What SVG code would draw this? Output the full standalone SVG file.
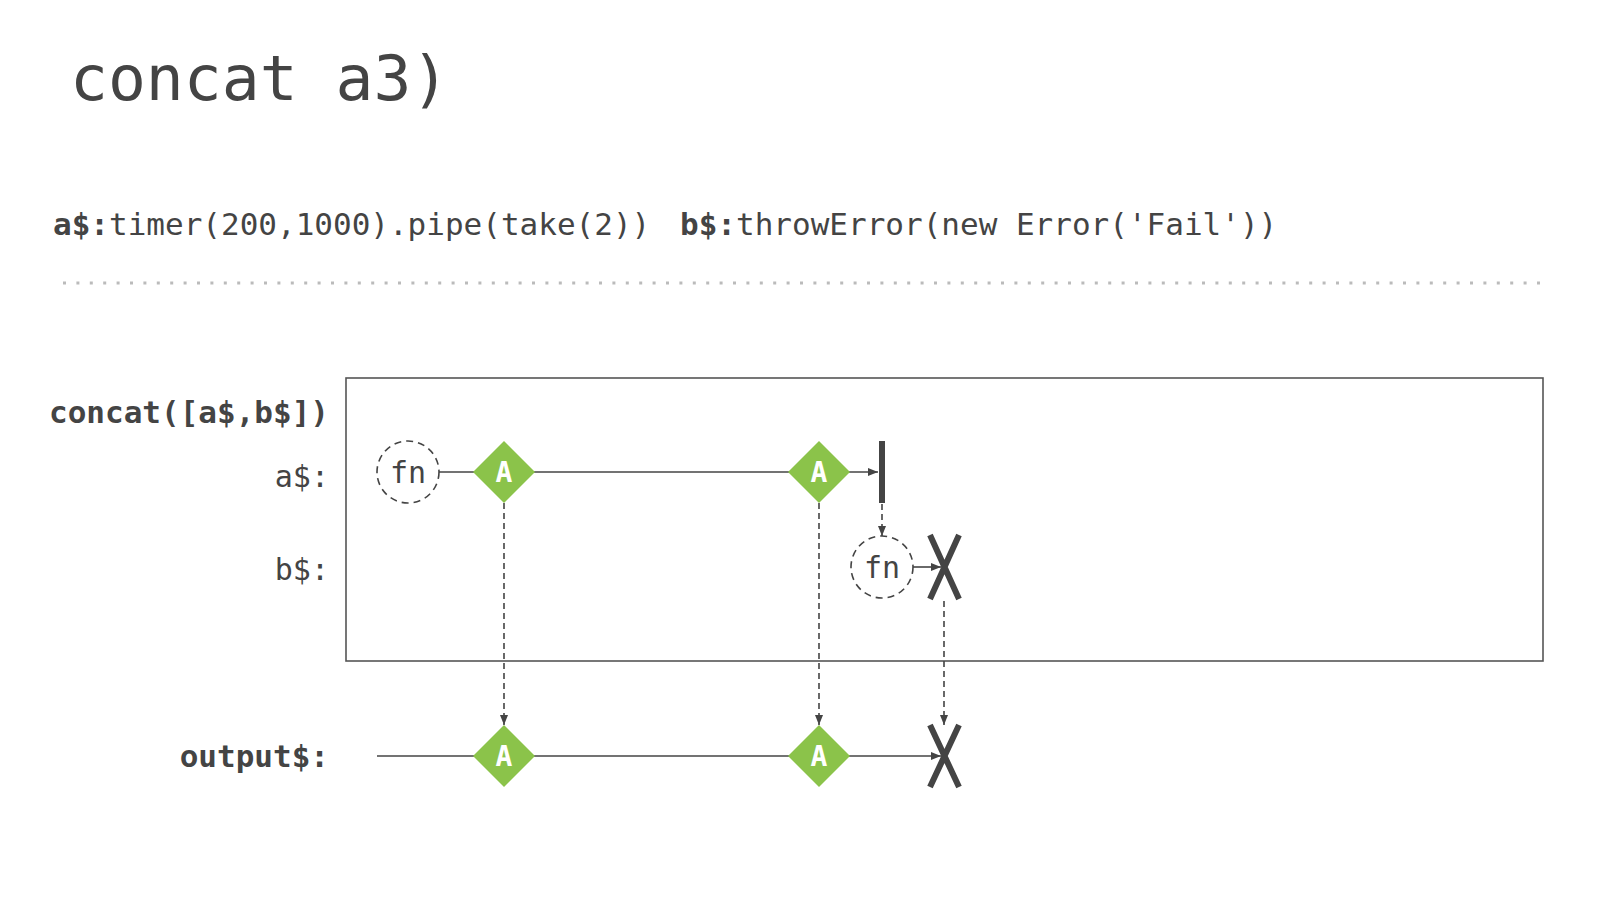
<svg xmlns="http://www.w3.org/2000/svg" width="1600" height="900" viewBox="0 0 1600 900">
  <style>
    .mono { font-family: "DejaVu Sans Mono", "Liberation Mono", monospace; fill: #444; }
    .title { font-size: 63px; }
    .code { font-size: 31px; }
    .label { font-size: 30px; text-anchor: end; }
    .heading { font-size: 31px; text-anchor: end; font-weight: bold; }
    .bold { font-weight: bold; }
    .fn { font-size: 30px; text-anchor: middle; fill: #444; }
    .val { font-family: "DejaVu Sans Mono", "Liberation Mono", monospace; font-size: 28px; font-weight: bold; fill: #fff; text-anchor: middle; }
    .diamond { fill: #8bc34a; }
    .timeline { stroke: #444; stroke-width: 1.6; fill: none; }
    .dashed { stroke: #444; stroke-width: 1.6; fill: none; stroke-dasharray: 6 4; }
    .fncircle { fill: #fff; stroke: #444; stroke-width: 1.6; stroke-dasharray: 7 5; }
    .err { stroke: #444; stroke-width: 6; fill: none; }
  </style>
  <defs>
    <marker id="arrow" viewBox="0 0 10 8" refX="10" refY="4" markerWidth="10" markerHeight="8" markerUnits="userSpaceOnUse" orient="auto">
      <path d="M0,0 L10,4 L0,8 Z" fill="#444"/>
    </marker>
  </defs>

  <rect width="1600" height="900" fill="#fff"/>

  <!-- heading and source -->
  <text class="mono title" x="70" y="100">concat a3)</text>
  <text class="mono code" x="53" y="235"><tspan class="bold">a$:</tspan>timer(200,1000).pipe(take(2))</text>
  <text class="mono code" x="680" y="235"><tspan class="bold">b$:</tspan>throwError(new Error('Fail'))</text>
  <line x1="63" y1="283" x2="1545" y2="283" stroke="#bbb" stroke-width="3" stroke-dasharray="3 10.4"/>

  <!-- operator frame -->
  <g id="frame">
    <rect x="346" y="378" width="1197" height="283" fill="none" stroke="#555" stroke-width="1.6"/>
    <text class="mono heading" x="329" y="423">concat([a$,b$])</text>
    <text class="mono label" x="329" y="487" fill="#555">a$:</text>
    <text class="mono label" x="329" y="580" fill="#555">b$:</text>
  </g>
  <text class="mono heading" x="329" y="767">output$:</text>

  <!-- connectors -->
  <g id="connectors">
    <line class="timeline" x1="439" y1="472" x2="878" y2="472" marker-end="url(#arrow)"/>
    <line class="dashed" x1="504" y1="503" x2="504" y2="725" marker-end="url(#arrow)"/>
    <line class="dashed" x1="819" y1="503" x2="819" y2="725" marker-end="url(#arrow)"/>
    <line class="dashed" x1="882" y1="504" x2="882" y2="536" marker-end="url(#arrow)"/>
    <line class="timeline" x1="913" y1="567" x2="941" y2="567" marker-end="url(#arrow)"/>
    <line class="dashed" x1="944" y1="601" x2="944" y2="725" marker-end="url(#arrow)"/>
    <line class="timeline" x1="377" y1="756" x2="941" y2="756" marker-end="url(#arrow)"/>
  </g>

  <!-- a$ stream -->
  <g id="a-fn">
    <circle class="fncircle" cx="408" cy="472" r="31"/>
    <text class="mono fn" x="408" y="483">fn</text>
  </g>
  <g id="a-value-1">
    <polygon class="diamond" points="504,441 535,472 504,503 473,472"/>
    <text class="val" x="504" y="482">A</text>
  </g>
  <g id="a-value-2">
    <polygon class="diamond" points="819,441 850,472 819,503 788,472"/>
    <text class="val" x="819" y="482">A</text>
  </g>
  <g id="a-complete">
    <rect x="879" y="441" width="6" height="62" fill="#444"/>
  </g>

  <!-- b$ stream -->
  <g id="b-fn">
    <circle class="fncircle" cx="882" cy="567" r="31"/>
    <text class="mono fn" x="882" y="578">fn</text>
  </g>
  <g id="b-error">
    <path class="err" d="M930,535 L959,599 M959,535 L930,599"/>
  </g>

  <!-- output$ stream -->
  <g id="out-value-1">
    <polygon class="diamond" points="504,725 535,756 504,787 473,756"/>
    <text class="val" x="504" y="766">A</text>
  </g>
  <g id="out-value-2">
    <polygon class="diamond" points="819,725 850,756 819,787 788,756"/>
    <text class="val" x="819" y="766">A</text>
  </g>
  <g id="out-error">
    <path class="err" d="M930,725 L959,787 M959,725 L930,787"/>
  </g>
</svg>
